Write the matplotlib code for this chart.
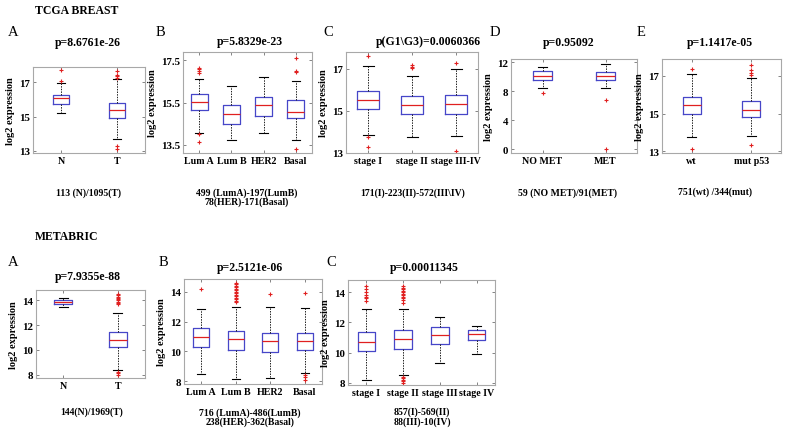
import numpy as np
import matplotlib
matplotlib.use("Agg")
import matplotlib.pyplot as plt

plt.rcParams['font.family'] = ['Liberation Serif', 'DejaVu Serif']

W, H = 789, 435

# ---- data: box stats (q1, median, q3, whisker low, whisker high, outliers)
tA_labels = ['N', 'T']
tA_q1 = [15.76, 14.94]
tA_med = [16.06, 15.40]
tA_q3 = [16.25, 15.80]
tA_lo = [15.20, 13.70]
tA_hi = [16.94, 17.18]
tA_out = [[17.1, 17.7], [17.25, 17.35, 17.45, 17.66, 13.3, 13.1]]

tB_labels = ['Lum A', 'Lum B', 'HER2', 'Basal']
tB_q1 = [15.15, 14.50, 14.87, 14.74]
tB_med = [15.51, 14.94, 15.40, 15.05]
tB_q3 = [15.90, 15.37, 15.78, 15.61]
tB_lo = [14.06, 13.73, 14.06, 13.73]
tB_hi = [16.60, 16.30, 16.70, 16.50]
tB_out = [[16.9, 17.0, 17.1, 17.15, 13.98, 13.6], [], [], [17.6, 17.0, 16.95, 13.3]]

tC_labels = ['stage I', 'stage II', 'stage III-IV']
tC_q1 = [15.08, 14.85, 14.85]
tC_med = [15.50, 15.28, 15.35]
tC_q3 = [15.93, 15.73, 15.76]
tC_lo = [13.87, 13.77, 13.80]
tC_hi = [17.12, 16.68, 17.00]
tC_out = [[17.6, 13.75, 13.3], [17.2, 17.1, 17.05], [17.3, 13.1]]

tD_labels = ['NO MET', 'MET']
tD_q1 = [9.6, 9.6]
tD_med = [10.1, 10.15]
tD_q3 = [10.76, 10.62]
tD_lo = [8.4, 8.5]
tD_hi = [11.3, 11.77]
tD_out = [[7.7], [6.8, 0.1]]

tE_labels = ['wt', 'mut p53']
tE_q1 = [14.98, 14.80]
tE_med = [15.45, 15.20]
tE_q3 = [15.88, 15.66]
tE_lo = [13.75, 13.83]
tE_hi = [17.12, 16.90]
tE_out = [[17.35, 13.1], [17.6, 17.3, 17.15, 17.05, 13.3]]

mA_labels = ['N', 'T']
mA_q1 = [13.68, 10.20]
mA_med = [13.90, 10.80]
mA_q3 = [14.06, 11.41]
mA_lo = [13.45, 8.35]
mA_hi = [14.16, 12.96]
mA_out = [[], [13.7, 13.8, 13.9, 14.0, 14.1, 14.2, 14.3, 14.4, 14.5, 8.2, 8.1, 7.95]]

mB_labels = ['Lum A', 'Lum B', 'HER2', 'Basal']
mB_q1 = [10.30, 10.08, 9.96, 10.10]
mB_med = [10.97, 10.80, 10.73, 10.70]
mB_q3 = [11.58, 11.35, 11.24, 11.24]
mB_lo = [8.52, 8.16, 8.20, 8.56]
mB_hi = [12.85, 12.96, 12.98, 12.90]
mB_out = [[14.15],
          [13.3, 13.4, 13.5, 13.6, 13.7, 13.8, 13.9, 14.0, 14.1, 14.2, 14.3, 14.4, 14.5, 14.6],
          [13.85], [13.88, 8.4, 8.3, 8.1]]

mC_labels = ['stage I', 'stage II', 'stage III', 'stage IV']
mC_q1 = [10.07, 10.24, 10.57, 10.80]
mC_med = [10.72, 10.87, 11.13, 11.22]
mC_q3 = [11.37, 11.46, 11.72, 11.46]
mC_lo = [8.20, 8.50, 9.28, 9.93]
mC_hi = [12.90, 12.90, 12.33, 11.74]
mC_out = [[13.4, 13.6, 13.7, 13.8, 14.0, 14.2, 14.4],
          [13.3, 13.5, 13.6, 13.7, 13.8, 13.9, 14.0, 14.1, 14.2, 14.3, 14.4, 8.4, 8.3, 8.2, 8.1, 8.0],
          [], []]


def px_axes(fig, x0, x1, y0, y1):
    return fig.add_axes([x0 / W, 1 - y1 / H, (x1 - x0) / W, (y1 - y0) / H])


def ftext(fig, x, y, s, **kw):
    kw.setdefault('ha', 'center')
    kw.setdefault('va', 'center')
    fig.text(x / W, 1 - y / H, s, **kw)


def panel(fig, box, labels, q1, med, q3, lo, hi, out, ylim, yticks, width):
    ax = px_axes(fig, *box)
    stats = []
    for i in range(len(labels)):
        stats.append(dict(q1=q1[i], med=med[i], q3=q3[i], whislo=lo[i],
                          whishi=hi[i], fliers=out[i], label=labels[i]))
    ax.bxp(stats, widths=width, showfliers=True,
           boxprops=dict(color='#4646c8', lw=0.9),
           medianprops=dict(color='#e02020', lw=0.9),
           whiskerprops=dict(color='#202020', lw=0.7, ls=(0, (1.5, 1.2))),
           capprops=dict(color='black', lw=0.8),
           flierprops=dict(marker='+', markersize=2.5, markeredgecolor='#e02020',
                           markeredgewidth=0.8, ls='none'))
    ax.set_ylim(*ylim)
    ax.set_xlim(0.5, len(labels) + 0.5)
    ax.set_yticks(yticks)
    ax.set_yticklabels([('%g' % t) for t in yticks])
    ax.tick_params(direction='in', length=2.5, width=0.6, top=True, right=True,
                   pad=2, color='#707070')
    ax.tick_params(axis='y', labelsize=7.8)
    ax.tick_params(axis='x', labelsize=7.2)
    for lab in ax.get_xticklabels() + ax.get_yticklabels():
        lab.set_fontweight('bold')
    for sp in ax.spines.values():
        sp.set_color('#a8a8a8')
        sp.set_linewidth(0.8)
    ax.set_ylabel('log2 expression', fontsize=7.5, fontweight='bold', labelpad=3)
    return ax


fig = plt.figure(figsize=(W / 100, H / 100), dpi=100)

bold = dict(fontweight='bold', fontsize=8.5)
cap = dict(fontweight='bold', fontsize=7)
let = dict(fontsize=10.5)

# ---- TCGA row
ftext(fig, 77, 11, 'TCGA BREAST', **bold)
panel(fig, (33, 145, 68, 154), tA_labels, tA_q1, tA_med, tA_q3, tA_lo, tA_hi, tA_out,
      (12.87, 17.9), [13, 15, 17], 0.3)
panel(fig, (183, 312, 53, 154), tB_labels, tB_q1, tB_med, tB_q3, tB_lo, tB_hi, tB_out,
      (13.1, 17.9), [13.5, 15.5, 17.5], 0.52)
panel(fig, (346, 478, 53, 154), tC_labels, tC_q1, tC_med, tC_q3, tC_lo, tC_hi, tC_out,
      (13.0, 17.8), [13, 15, 17], 0.5)
panel(fig, (511, 637, 60, 154), tD_labels, tD_q1, tD_med, tD_q3, tD_lo, tD_hi, tD_out,
      (-0.5, 12.45), [0, 4, 8, 12], 0.3)
panel(fig, (662, 781, 60, 154), tE_labels, tE_q1, tE_med, tE_q3, tE_lo, tE_hi, tE_out,
      (12.9, 17.9), [13, 15, 17], 0.31)

for x, s in [(13, 'A'), (160, 'B'), (328, 'C'), (495, 'D'), (641, 'E')]:
    ftext(fig, x, 32, s, **let)
ftext(fig, 88, 43, 'p=8.6761e-26', **bold)
ftext(fig, 250, 42, 'p=5.8329e-23', **bold)
ftext(fig, 428, 42, 'p(G1\\G3)=0.0060366', **bold)
ftext(fig, 569, 43, 'p=0.95092', **bold)
ftext(fig, 720, 43, 'p=1.1417e-05', **bold)

ftext(fig, 88, 193, '113 (N)/1095(T)', **cap)
ftext(fig, 247, 193, '499 (LumA)-197(LumB)', **cap)
ftext(fig, 247, 202, '78(HER)-171(Basal)', **cap)
ftext(fig, 413, 193, '171(I)-223(II)-572(III\\IV)', **cap)
ftext(fig, 567, 193, '59 (NO MET)/91(MET)', **cap)
ftext(fig, 715, 192, '751(wt) /344(mut)', **cap)

# ---- METABRIC row
ftext(fig, 67, 237, 'METABRIC', **bold)
panel(fig, (36, 145, 291, 379), mA_labels, mA_q1, mA_med, mA_q3, mA_lo, mA_hi, mA_out,
      (7.73, 14.83), [8, 10, 12, 14], 0.33)
panel(fig, (184, 322, 280, 385), mB_labels, mB_q1, mB_med, mB_q3, mB_lo, mB_hi, mB_out,
      (7.82, 14.85), [8, 10, 12, 14], 0.45)
panel(fig, (348, 495, 281, 386), mC_labels, mC_q1, mC_med, mC_q3, mC_lo, mC_hi, mC_out,
      (7.85, 14.8), [8, 10, 12, 14], 0.48)

for x, y, s in [(13, 263, 'A'), (163, 263, 'B'), (331, 262, 'C')]:
    ftext(fig, x, y, s, **let)
ftext(fig, 88, 277, 'p=7.9355e-88', **bold)
ftext(fig, 250, 268, 'p=2.5121e-06', **bold)
ftext(fig, 424, 268, 'p=0.00011345', **bold)

ftext(fig, 92, 412, '144(N)/1969(T)', **cap)
ftext(fig, 250, 413, '716 (LumA)-486(LumB)', **cap)
ftext(fig, 250, 422, '238(HER)-362(Basal)', **cap)
ftext(fig, 422, 412, '857(I)-569(II)', **cap)
ftext(fig, 422, 422, '88(III)-10(IV)', **cap)

fig.savefig('out.png', dpi=100)
